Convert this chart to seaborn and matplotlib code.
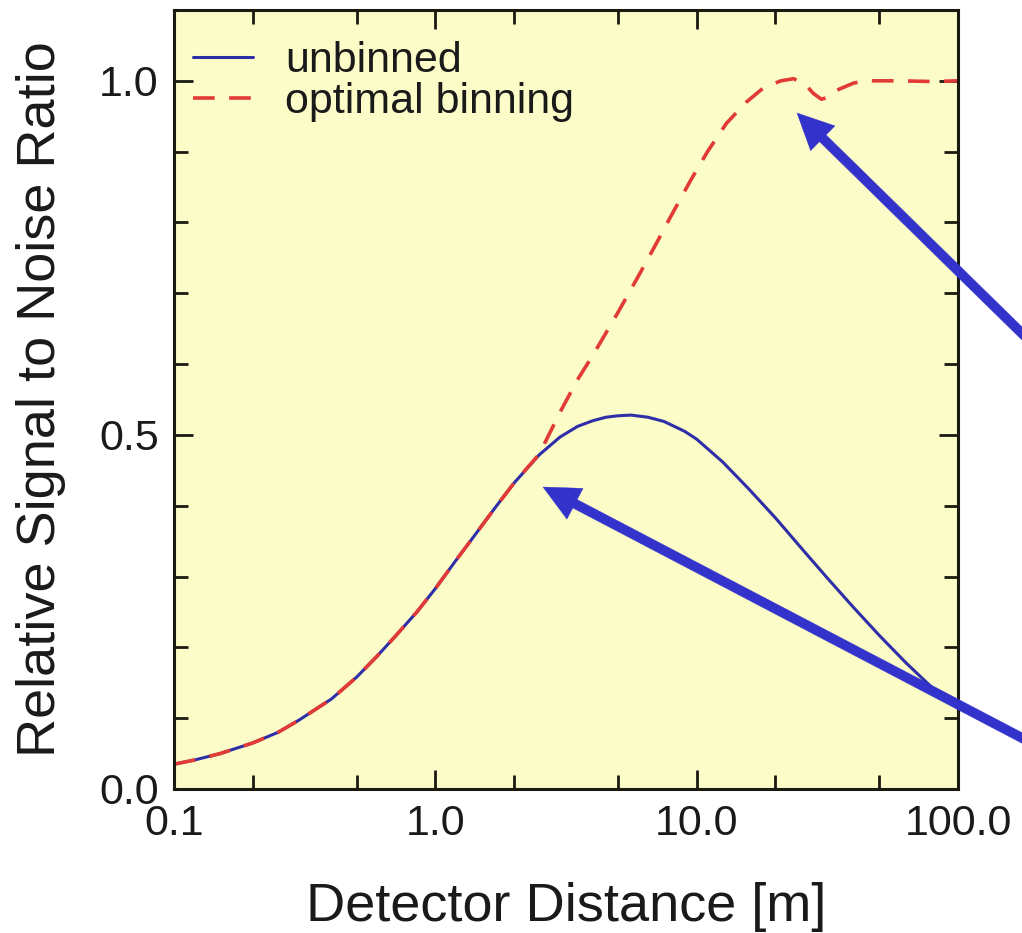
import matplotlib
matplotlib.use("Agg")
import matplotlib.pyplot as plt
import seaborn as sns
import pandas as pd
from matplotlib.ticker import FixedLocator, FixedFormatter, NullFormatter

# ---- data ----
distance_unbinned = [0.1, 0.12, 0.15, 0.2, 0.25, 0.3, 0.4, 0.5, 0.6, 0.7, 0.85, 1.0,
                     1.2, 1.4, 1.7, 2.0, 2.5, 3.0, 3.5, 4.0, 4.5, 5.0, 5.6, 6.5,
                     7.5, 9.0, 10, 12.6, 15.8, 20, 25.1, 31.6, 39.8, 50.1, 63.1,
                     79.4, 100]
snr_unbinned = [0.035, 0.041, 0.050, 0.065, 0.080, 0.097, 0.127, 0.158, 0.188, 0.215,
                0.250, 0.283, 0.323, 0.356, 0.398, 0.432, 0.472, 0.497, 0.512, 0.520,
                0.525, 0.527, 0.528, 0.525, 0.519, 0.505, 0.494, 0.4615, 0.424, 0.383,
                0.3405, 0.298, 0.2565, 0.2165, 0.1785, 0.1435, 0.114]

distance_binned = [0.1, 0.12, 0.15, 0.2, 0.25, 0.3, 0.4, 0.5, 0.6, 0.7, 0.85, 1.0,
                   1.2, 1.4, 1.7, 2.0, 2.5, 3.0, 3.5, 4.0, 5.0, 6.0, 7.0, 8.0, 9.5,
                   11, 13, 15.5, 18, 21, 23.5, 26, 28, 30, 32, 35, 40, 45, 60, 80, 100]
snr_binned = [0.035, 0.041, 0.050, 0.065, 0.080, 0.097, 0.127, 0.158, 0.188, 0.215,
              0.250, 0.283, 0.323, 0.356, 0.398, 0.432, 0.473, 0.532, 0.578, 0.612,
              0.673, 0.725, 0.770, 0.810, 0.860, 0.900, 0.940, 0.970, 0.990, 1.000,
              1.003, 0.995, 0.982, 0.974, 0.977, 0.988, 0.997, 1.000, 1.000, 0.999, 1.000]

series_labels = ["unbinned", "optimal binning"]
x_tick_values = [0.1, 1.0, 10.0, 100.0]
x_tick_labels = ["0.1", "1.0", "10.0", "100.0"]
y_tick_values = [0.0, 0.5, 1.0]
y_tick_labels = ["0.0", "0.5", "1.0"]

# ---- style ----
sns.set_theme(style="ticks")
plt.rcParams["font.family"] = ["Liberation Sans", "DejaVu Sans"]
text_color = "#1a1a1a"
plt.rcParams["text.color"] = text_color
plt.rcParams["axes.labelcolor"] = text_color
plt.rcParams["xtick.color"] = "#1a1a10"
plt.rcParams["ytick.color"] = "#1a1a10"
plt.rcParams["xtick.labelcolor"] = text_color
plt.rcParams["ytick.labelcolor"] = text_color

fig = plt.figure(figsize=(10.22, 9.33), dpi=100)
fig.patch.set_facecolor("white")
ax = fig.add_axes([174 / 1022, 1 - 789 / 933, (958 - 174) / 1022, (789 - 10) / 933])
ax.set_facecolor("#fcfcc8")

df_u = pd.DataFrame({"x": distance_unbinned, "y": snr_unbinned})
df_b = pd.DataFrame({"x": distance_binned, "y": snr_binned})

sns.lineplot(data=df_u, x="x", y="y", ax=ax, color="#2e2ea8", linewidth=2.2,
             estimator=None, sort=False, label=series_labels[0])
sns.lineplot(data=df_b, x="x", y="y", ax=ax, color="#e23a35", linewidth=2.6,
             estimator=None, sort=False, label=series_labels[1])
ax.lines[1].set_dashes((6, 4))

ax.set_xscale("log")
ax.set_xlim(0.1, 100)
ax.set_ylim(0, 1.1)

ax.xaxis.set_major_locator(FixedLocator(x_tick_values))
ax.xaxis.set_major_formatter(FixedFormatter(x_tick_labels))
minor_x = [m * 10.0 ** e for e in (-1, 0, 1) for m in (2, 5)]
ax.xaxis.set_minor_locator(FixedLocator(minor_x))
ax.xaxis.set_minor_formatter(NullFormatter())

ax.yaxis.set_major_locator(FixedLocator(y_tick_values))
ax.yaxis.set_major_formatter(FixedFormatter(y_tick_labels))
ax.yaxis.set_minor_locator(FixedLocator([0.1, 0.2, 0.3, 0.4, 0.6, 0.7, 0.8, 0.9]))
ax.yaxis.set_minor_formatter(NullFormatter())

ax.tick_params(which="both", direction="in", top=True, right=True, width=2.0)
ax.tick_params(which="major", length=14, labelsize=31, pad=11)
ax.tick_params(which="minor", length=10)

for s in ax.spines.values():
    s.set_visible(True)
    s.set_linewidth(2.2)
    s.set_color("#1a1a10")

ax.set_xlabel("Detector Distance [m]", fontsize=39, labelpad=27)
ax.set_ylabel("Relative Signal to Noise Ratio", fontsize=39, labelpad=24)

handles, labels = ax.get_legend_handles_labels()
leg = ax.legend(handles, labels, loc="upper left", bbox_to_anchor=(0.024, 0.96),
                frameon=False, fontsize=31, handlelength=1.4, handletextpad=0.75,
                labelspacing=0.02, borderpad=0, borderaxespad=0)

arrow_color = "#3333cc"
arrow_kw = dict(facecolor=arrow_color, edgecolor=arrow_color, linewidth=0.3,
                width=6.8, headwidth=25, headlength=26, shrink=0)
ax.annotate("", xy=(797, 933 - 113), xycoords="figure pixels",
            xytext=(1045, 933 - 356), textcoords="figure pixels",
            arrowprops=arrow_kw, annotation_clip=False, zorder=10)
ax.annotate("", xy=(543, 933 - 487), xycoords="figure pixels",
            xytext=(1045, 933 - 750), textcoords="figure pixels",
            arrowprops=arrow_kw, annotation_clip=False, zorder=10)

fig.savefig("out.png", dpi=100, facecolor="white")
